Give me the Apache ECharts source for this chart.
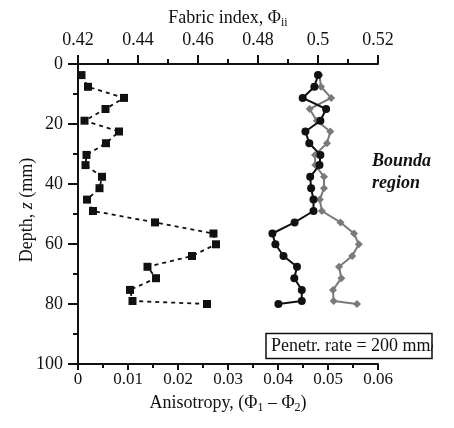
<!DOCTYPE html>
<html>
<head>
<meta charset="utf-8">
<script src="https://cdn.jsdelivr.net/npm/echarts@6/dist/echarts.min.js"></script>
<style>
  html, body { margin: 0; padding: 0; background: #fff; }
  #chart { width: 454px; height: 428px; }
</style>
</head>
<body>
<div id="chart"></div>
<script>
// depth (mm) of each sample
var depths = [3.7, 7.6, 11.3, 15.0, 18.9, 22.5, 26.4, 30.3, 33.7, 37.6, 41.4,
              45.2, 49.0, 52.8, 56.5, 60.1, 64.0, 67.6, 71.4, 75.3, 79.0, 80.0];
// anisotropy (Phi1 - Phi2), bottom axis
var anisotropy = [0.0007, 0.0020, 0.0092, 0.0055, 0.0013, 0.0082, 0.0056, 0.0017, 0.0015, 0.0048, 0.0043,
                  0.0018, 0.0030, 0.0154, 0.0271, 0.0276, 0.0228, 0.0139, 0.0156, 0.0104, 0.0109, 0.0258];
// fabric index, top axis (black circles)
var fabricBlack = [0.5000, 0.4988, 0.4949, 0.5027, 0.5008, 0.4958, 0.4971, 0.5008, 0.5005, 0.4974, 0.4977,
                   0.4985, 0.4985, 0.4922, 0.4848, 0.4858, 0.4885, 0.4930, 0.4921, 0.4946, 0.4946, 0.4868];
// fabric index, top axis (grey diamonds)
var fabricGrey = [0.5005, 0.5010, 0.5044, 0.4972, 0.4996, 0.5041, 0.5030, 0.4990, 0.4991, 0.5020, 0.5020,
                  0.5006, 0.5013, 0.5075, 0.5120, 0.5136, 0.5114, 0.5070, 0.5078, 0.5050, 0.5052, 0.5130];

var xTicksBottom = [0, 0.06, 0.01];
var xTicksTop = [0.42, 0.52, 0.02];
var yTicks = [0, 100, 20];

function pairs(xs) {
  return xs.map(function (v, i) { return [v, depths[i]]; });
}

var serif = 'Liberation Serif';
var sub = { fontFamily: serif, fontSize: 12, lineHeight: 12, padding: [9, 0, 0, 0], color: '#111' };

var chart = echarts.init(document.getElementById('chart'));

var axisCommon = {
  type: 'value',
  axisLine: { show: true, onZero: false, lineStyle: { color: '#111', width: 2 } },
  axisTick: { show: true, length: 9, lineStyle: { color: '#111', width: 2 } },
  minorTick: { show: true, splitNumber: 2, length: 5, lineStyle: { color: '#111', width: 2 } },
  splitLine: { show: false },
  axisLabel: { color: '#111', fontFamily: serif, fontSize: 18, showMinLabel: true, showMaxLabel: true },
  nameTextStyle: { color: '#111', fontFamily: serif, fontSize: 18 },
  nameMoveOverlap: false
};

function fmt(v) { return String(+v.toFixed(2)); }

var option = {
  backgroundColor: '#fff',
  animation: false,
  grid: { left: 78, top: 64, width: 300, height: 300, containLabel: false },
  xAxis: [
    Object.assign({}, axisCommon, {
      position: 'bottom',
      min: xTicksBottom[0], max: xTicksBottom[1], interval: xTicksBottom[2],
      axisTick: Object.assign({}, axisCommon.axisTick, { length: 6 }),
      minorTick: Object.assign({}, axisCommon.minorTick, { length: 4 }),
      axisLabel: Object.assign({}, axisCommon.axisLabel, { margin: 7, fontSize: 17, formatter: fmt }),
      name: 'Anisotropy, (Φ{s|1} – Φ{s|2})',
      nameLocation: 'middle',
      nameGap: 30,
      nameTextStyle: Object.assign({}, axisCommon.nameTextStyle, { rich: { s: sub } })
    }),
    Object.assign({}, axisCommon, {
      position: 'top',
      min: xTicksTop[0], max: xTicksTop[1], interval: xTicksTop[2],
      axisLabel: Object.assign({}, axisCommon.axisLabel, { margin: 15, formatter: fmt }),
      name: 'Fabric index, Φ{s|ii}',
      nameLocation: 'middle',
      nameGap: 37,
      nameTextStyle: Object.assign({}, axisCommon.nameTextStyle, { rich: { s: sub } })
    })
  ],
  yAxis: [
    Object.assign({}, axisCommon, {
      position: 'left',
      inverse: true,
      min: yTicks[0], max: yTicks[1], interval: yTicks[2],
      axisTick: Object.assign({}, axisCommon.axisTick, { length: 10 }),
      axisLabel: Object.assign({}, axisCommon.axisLabel, { margin: 15 }),
      name: 'Depth, {i|z} (mm)',
      nameLocation: 'middle',
      nameRotate: 90,
      nameGap: 42,
      nameTextStyle: Object.assign({}, axisCommon.nameTextStyle, {
        fontSize: 18,
        padding: [0, 0, 0, 8],
        rich: { i: { fontFamily: serif, fontSize: 18, fontStyle: 'italic', color: '#111' } }
      })
    })
  ],
  series: [
    {
      name: 'anisotropy',
      type: 'line',
      xAxisIndex: 0,
      data: pairs(anisotropy),
      symbol: 'rect',
      symbolSize: 8,
      showAllSymbol: true,
      itemStyle: { color: '#111' },
      lineStyle: { color: '#111', width: 1.8, type: [4, 4] },
      z: 3
    },
    {
      name: 'fabric grey',
      type: 'line',
      xAxisIndex: 1,
      data: pairs(fabricGrey),
      symbol: 'diamond',
      symbolSize: 8,
      showAllSymbol: true,
      itemStyle: { color: '#7a7a7a' },
      lineStyle: { color: '#7a7a7a', width: 2 },
      z: 2
    },
    {
      name: 'fabric black',
      type: 'line',
      xAxisIndex: 1,
      data: pairs(fabricBlack),
      symbol: 'circle',
      symbolSize: 8,
      showAllSymbol: true,
      itemStyle: { color: '#111' },
      lineStyle: { color: '#111', width: 2 },
      z: 3
    }
  ],
  graphic: [
    {
      type: 'text', left: 372, top: 150,
      style: { text: 'Bounda\nregion', font: 'italic bold 18px "Liberation Serif"', fill: '#111', lineHeight: 22 }
    },
    {
      type: 'text', left: 271, top: 337,
      style: { text: 'Penetr. rate = 200 mm/s', font: '18px "Liberation Serif"', fill: '#111' }
    },
    {
      type: 'rect', shape: { x: 433, y: 325, width: 30, height: 40 },
      style: { fill: '#fff' }, z: 10
    },
    {
      type: 'rect', shape: { x: 266, y: 333.5, width: 166, height: 25 },
      style: { fill: 'none', stroke: '#111', lineWidth: 1.5 }, z: 11
    }
  ]
};

chart.setOption(option);
</script>
</body>
</html>
